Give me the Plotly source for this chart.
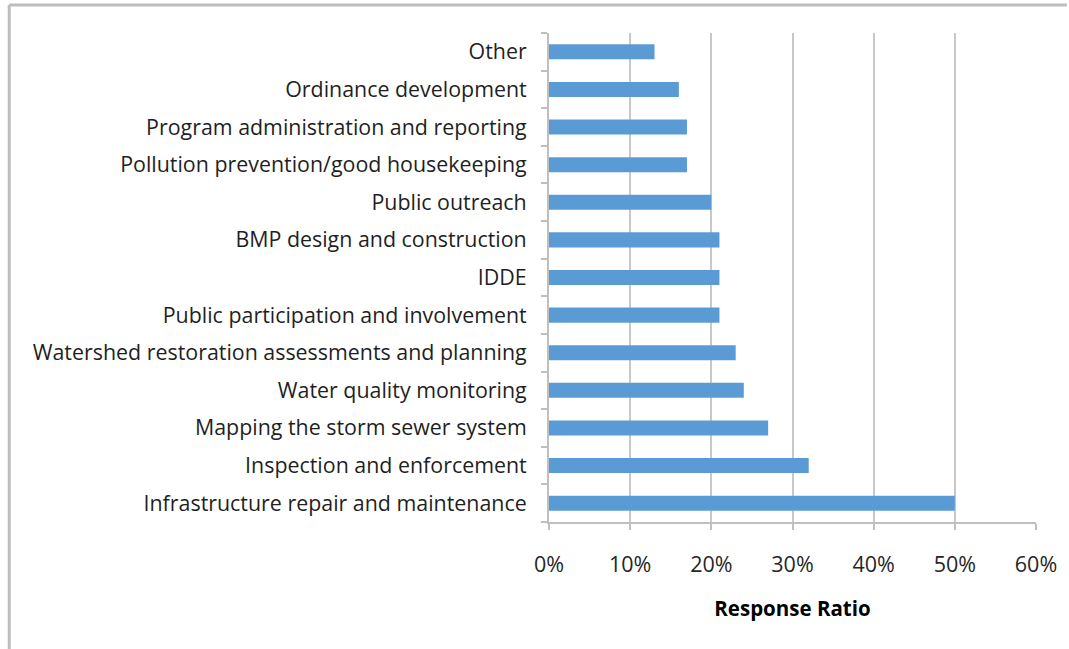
import plotly.graph_objects as go

# Activities, listed bottom to top as they appear on the axis
activities = [
    "Infrastructure repair and maintenance",
    "Inspection and enforcement",
    "Mapping the storm sewer system",
    "Water quality monitoring",
    "Watershed restoration assessments and planning",
    "Public participation and involvement",
    "IDDE",
    "BMP design and construction",
    "Public outreach",
    "Pollution prevention/good housekeeping",
    "Program administration and reporting",
    "Ordinance development",
    "Other",
]
response_ratio = [0.50, 0.32, 0.27, 0.24, 0.23, 0.21, 0.21, 0.21, 0.20, 0.17, 0.17, 0.16, 0.13]

x_ticks = [0, 0.1, 0.2, 0.3, 0.4, 0.5, 0.6]
x_tick_labels = ["0%", "10%", "20%", "30%", "40%", "50%", "60%"]

W, H = 1069, 649
L, R, T, B = 549, 31, 33, 127

fig = go.Figure(
    go.Bar(
        x=response_ratio,
        y=activities,
        orientation="h",
        marker=dict(color="#5b9bd5", line=dict(width=0)),
    )
)

fig.update_layout(
    width=W,
    height=H,
    margin=dict(l=L, r=R, t=T, b=B, pad=0),
    paper_bgcolor="white",
    plot_bgcolor="white",
    bargap=0.6,
    showlegend=False,
    font=dict(family="Open Sans", color="#1f1f1f", size=21),
    xaxis=dict(
        range=[0, 0.6],
        tickvals=x_ticks,
        ticktext=x_tick_labels,
        showgrid=True,
        gridcolor="#c8c8c8",
        gridwidth=2,
        zeroline=False,
        showline=True,
        linecolor="#bfbfbf",
        linewidth=2,
        ticks="outside",
        ticklen=6,
        tickwidth=2,
        tickcolor="#bfbfbf",
        tickfont=dict(size=21.5, color="#262626"),
        ticklabelstandoff=16,
        title=dict(
            text="<b>Response Ratio</b>",
            font=dict(size=20.5, color="#000000"),
            standoff=25,
        ),
    ),
    yaxis=dict(
        categoryorder="array",
        categoryarray=activities,
        showgrid=False,
        zeroline=False,
        showline=True,
        linecolor="#bfbfbf",
        linewidth=2,
        ticks="outside",
        tickson="boundaries",
        ticklen=6,
        tickwidth=2,
        tickcolor="#bfbfbf",
        tickfont=dict(size=21.4, color="#1f1f1f"),
        ticklabelstandoff=16,
    ),
)

# Frame lines along the top and left edge of the chart
fig.add_shape(type="line", xref="paper", yref="paper",
              x0=-(L - 7) / (W - L - R), x1=(W - L) / (W - L - R),
              y0=1 + (T - 5) / (H - T - B), y1=1 + (T - 5) / (H - T - B),
              line=dict(color="#bdbdbd", width=3))
fig.add_shape(type="line", xref="paper", yref="paper",
              x0=-(L - 7) / (W - L - R), x1=-(L - 7) / (W - L - R),
              y0=-B / (H - T - B), y1=1 + (T - 5) / (H - T - B),
              line=dict(color="#bdbdbd", width=3))

fig.write_html("out.html")
